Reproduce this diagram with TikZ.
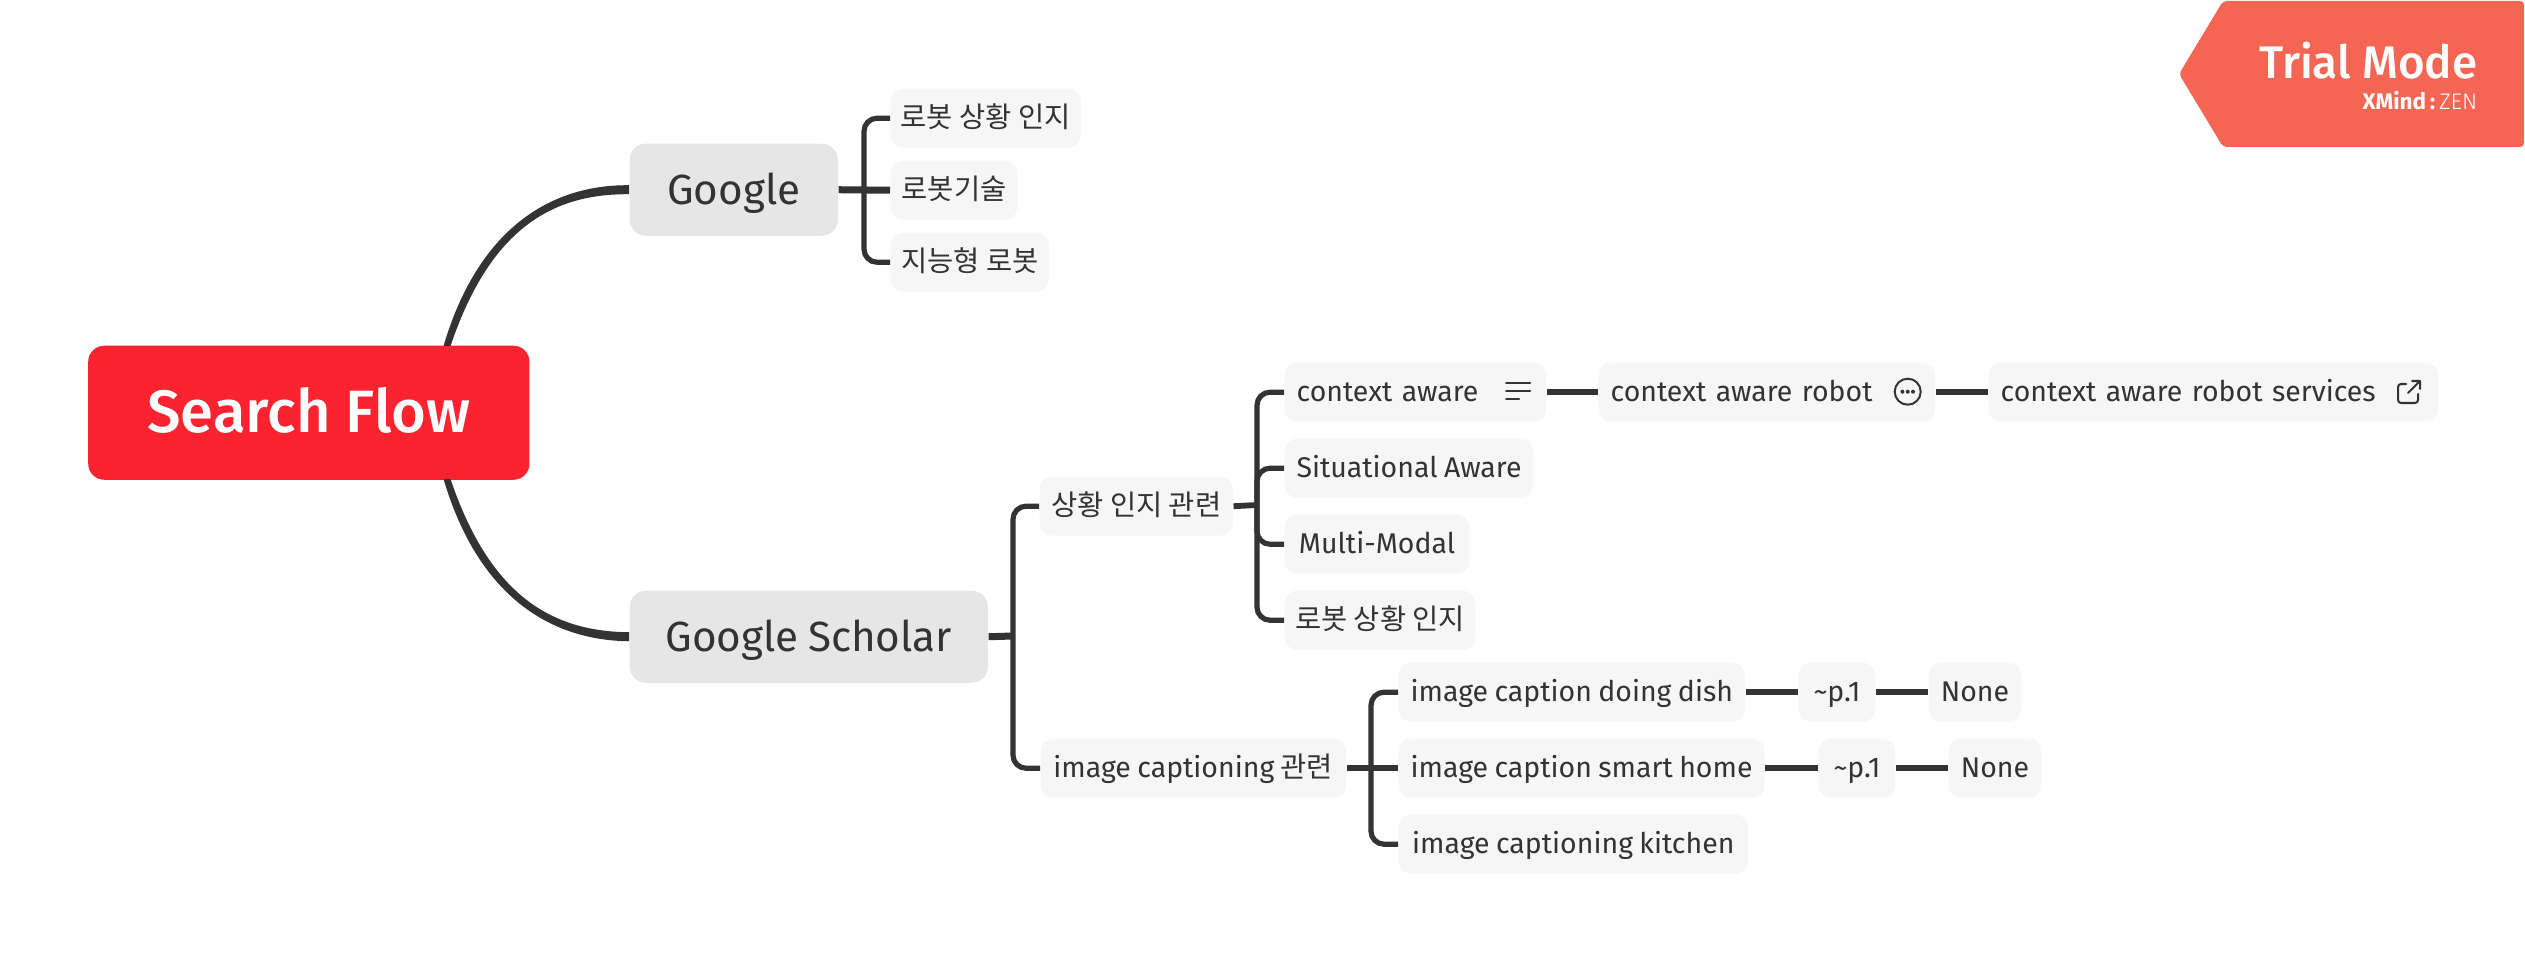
\documentclass[tikz,border=0pt]{standalone}
\usepackage{fontspec}
\setmainfont{Fira Sans}[WordSpace=0.85]
\newfontfamily\krfont{Noto Sans CJK KR}
\newfontfamily\medfont{Fira Sans Medium}
\newfontfamily\thinfont{Fira Sans Light}
\usetikzlibrary{positioning}
\definecolor{linkc}{HTML}{333333}
\definecolor{rootc}{HTML}{FB2330}
\definecolor{mainc}{HTML}{E6E6E6}
\definecolor{subc}{HTML}{F6F6F6}
\definecolor{badgec}{HTML}{F56554}
\tikzset{
  box/.style={anchor=north west,rounded corners=0.12cm,text=linkc,inner sep=0pt,minimum height=0.59cm,text height=0.27cm,text depth=0.09cm,fill=subc,font=\fontsize{8.1}{10}\selectfont},
  mainbox/.style={box,fill=mainc,rounded corners=0.16cm,minimum height=0.92cm,text height=0.45cm,text depth=0.16cm,font=\fontsize{12}{14}\selectfont},
  rootbox/.style={box,fill=rootc,text=white,rounded corners=0.16cm,minimum height=1.34cm,text height=0.6cm,text depth=0.2cm,font=\fontsize{17}{20}\medfont},
  link/.style={draw=linkc,line width=0.058cm},
  elbow/.style={link,line width=0.052cm,rounded corners=0.13cm},
  icon/.style={draw=linkc,line width=0.02cm,line cap=round,line join=round}
}
\begin{document}
\begin{tikzpicture}[x=0.01cm,y=-0.01cm]
\useasboundingbox (0,0) rectangle (2525,961);
% trial badge
\fill [badgec,rounded corners=0.04cm] (2223,1) -- (2524,1) -- (2524,147) -- (2223,147) -- (2179,74) -- cycle;
\node (trial) [anchor=base east,inner sep=0pt,text=white,font=\fontsize{13}{15}\medfont] at (2478,79) {Trial Mode};
\node (xmind) [anchor=base east,inner sep=0pt,text=white,font=\fontsize{6.4}{8}\selectfont] at (2478,110) {\textbf{XMind\,:}\,{\thinfont ZEN}};
% main topics
\node (root) [rootbox,minimum width=4.41cm] at (87.5,345) {Search Flow};
\node (google) [mainbox,minimum width=2.08cm] at (629,143) {Google};
\node (scholar) [mainbox,minimum width=3.58cm] at (629,590) {Google Scholar};
% google children
\node (gA) [box,minimum width=1.9cm] at (890,88) {\krfont 로봇 상황 인지};
\node (gB) [box,minimum width=1.265cm] at (890,160) {\krfont 로봇기술};
\node (gC) [box,minimum width=1.58cm] at (890,232) {\krfont 지능형 로봇};
% scholar children
\node (sA) [box,minimum width=1.93cm] at (1039,476) {\krfont 상황 인지 관련};
\node (sB) [box,minimum width=3.05cm] at (1040,738) {image captioning {\krfont 관련}};
\node (aA) [box,minimum width=2.61cm,text width=2.61cm,align=left] at (1284,362) {\hspace{0.12cm}context aware};
\node (aB) [box,minimum width=2.485cm] at (1284,438) {Situational Aware};
\node (aC) [box,minimum width=1.845cm] at (1284,514) {Multi-Modal};
\node (aD) [box,minimum width=1.905cm] at (1284,590) {\krfont 로봇 상황 인지};
\node (aE) [box,minimum width=3.36cm,text width=3.36cm,align=left] at (1598,362) {\hspace{0.12cm}context aware robot};
\node (aF) [box,minimum width=4.49cm,text width=4.49cm,align=left] at (1988,362) {\hspace{0.12cm}context aware robot services};
\node (bA) [box,minimum width=3.46cm] at (1398,662) {image caption doing dish};
\node (bB) [box,minimum width=0.765cm] at (1798,662) {\textasciitilde p.1};
\node (bC) [box,minimum width=0.925cm] at (1928,662) {None};
\node (bD) [box,minimum width=3.655cm] at (1398,738) {image caption smart home};
\node (bE) [box,minimum width=0.765cm] at (1818,738) {\textasciitilde p.1};
\node (bF) [box,minimum width=0.925cm] at (1948,738) {None};
\node (bG) [box,minimum width=3.49cm] at (1398,814) {image captioning kitchen};
% icons
\draw [icon] (1506,383) -- (1530,383) (1506,391) -- (1530,391) (1506,399) -- (1519,399);
\draw [icon] (1907.7,391.7) circle (0.13cm);
\fill [linkc] (1902.4,391.7) circle (0.02cm) (1907.7,391.7) circle (0.02cm) (1913,391.7) circle (0.02cm);
\draw [icon,rounded corners=0.03cm] (2406,384) -- (2398,384) -- (2398,403) -- (2418,403) -- (2418,394);
\draw [icon] (2408,393) -- (2420,381) (2412,381) -- (2420,381) -- (2420,389);
% curved links from root
\coordinate (rootUp) at (447,346);
\coordinate (rootDn) at (447,479);
\fill [linkc] ([xshift=-0.035cm]rootUp) .. controls (480,223) and (556,184.5) .. ([yshift=0.045cm]google.west) -- ([yshift=-0.045cm]google.west) .. controls (552,193.5) and (490,229) .. ([xshift=0.035cm]rootUp) -- cycle;
\fill [linkc] ([xshift=-0.035cm]rootDn) .. controls (480,602) and (556,640.5) .. ([yshift=-0.045cm]scholar.west) -- ([yshift=0.045cm]scholar.west) .. controls (552,631.5) and (490,596) .. ([xshift=0.035cm]rootDn) -- cycle;
% google branch
\coordinate (gHub) at (864,189);
\draw [link,line width=0.07cm] (google.east) -- (gB.west);
\draw [elbow] (gHub) |- (gA.west);
\draw [elbow] (gHub) |- (gC.west);
% scholar branch
\coordinate (sHub) at (1013,636);
\draw [link,line width=0.07cm] (scholar.east) -- (sHub);
\draw [elbow] (sHub) |- (sA.west);
\draw [elbow] (sHub) |- (sB.west);
% aware branch
\coordinate (aHub) at (1257,505);
\draw [link] (sA.east) -- (aHub);
\draw [elbow] (aHub) |- (aA.west);
\draw [elbow] (aHub) |- (aB.west);
\draw [elbow] (aHub) |- (aC.west);
\draw [elbow] (aHub) |- (aD.west);
\draw [link] (aA.east) -- (aE.west);
\draw [link] (aE.east) -- (aF.west);
% captioning branch
\coordinate (bHub) at (1371,767);
\draw [link] (sB.east) -- (bD.west);
\draw [elbow] (bHub) |- (bA.west);
\draw [elbow] (bHub) |- (bG.west);
\draw [link] (bA.east) -- (bB.west);
\draw [link] (bB.east) -- (bC.west);
\draw [link] (bD.east) -- (bE.west);
\draw [link] (bE.east) -- (bF.west);
\end{tikzpicture}
\end{document}
